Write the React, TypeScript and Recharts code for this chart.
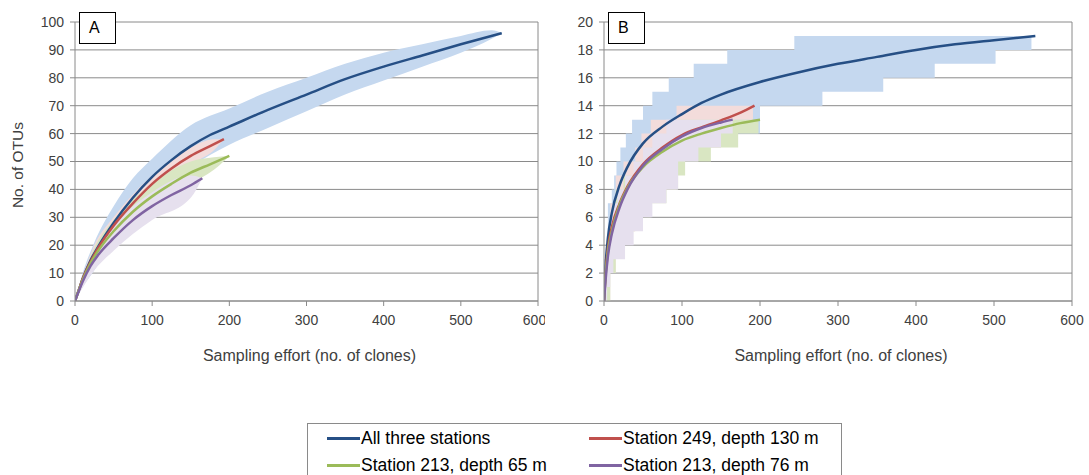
import { ComposedChart, Line, Area, XAxis, YAxis, CartesianGrid, ReferenceLine } from "recharts";

const xTicks = [0, 100, 200, 300, 400, 500, 600];
const yTicksA = [0, 10, 20, 30, 40, 50, 60, 70, 80, 90, 100];
const yTicksB = [0, 2, 4, 6, 8, 10, 12, 14, 16, 18, 20];

// panel A: rarefaction curves (x = clones, y = OTUs)
const allA = [[0, 0], [5, 4], [10, 8], [20, 14.5], [30, 19.5], [50, 28], [75, 37], [100, 44.5], [125, 50.5], [150, 55.5], [175, 59.5], [200, 62.5], [250, 68.5], [300, 74], [350, 79.5], [400, 84], [450, 88], [500, 92], [553, 96]];
const st249A = [[0, 0], [5, 4], [10, 8], [20, 14], [30, 19], [50, 27], [75, 35], [100, 42], [125, 47.5], [150, 52], [175, 55.5], [193, 58]];
const st213sA = [[0, 0], [10, 7.5], [20, 13.5], [30, 18], [50, 25], [75, 32], [100, 37.5], [125, 42], [150, 46], [175, 49], [200, 52]];
const st213dA = [[0, 0], [10, 7], [20, 12.5], [30, 16.5], [50, 22.5], [75, 29], [100, 34], [125, 38], [150, 41.5], [165, 44]];

// panel A: confidence bands [x, low, high]
const allBandA = [[0, 0, 0], [10, 5, 10], [25, 11, 21], [50, 22, 34], [75, 30, 44], [100, 37, 51], [150, 48, 63], [200, 56, 69], [250, 62, 75], [300, 68, 80], [350, 74, 85], [400, 79, 89], [450, 84, 92], [500, 89, 95], [540, 94, 97], [553, 96, 96]];
const st249BandA = [[0, 0, 0], [25, 14, 20], [50, 24, 30], [100, 39, 45], [150, 49, 55], [180, 54, 58], [193, 58, 58]];
const st213sBandA = [[0, 0, 0], [25, 13, 19], [50, 21, 29], [100, 33, 42], [150, 42, 50], [180, 47, 51.5], [200, 52, 52]];
const st213dBandA = [[0, 0, 0], [25, 11, 18], [50, 18, 27], [100, 29, 39], [150, 37, 45], [165, 44, 44]];

// panel B: curves
const allB = [[0, 0], [2, 2.5], [5, 4.5], [10, 6.3], [20, 8.3], [30, 9.6], [50, 11.3], [75, 12.5], [100, 13.4], [125, 14.2], [150, 14.8], [200, 15.7], [250, 16.4], [300, 17], [350, 17.5], [400, 18], [450, 18.4], [500, 18.7], [553, 19]];
const st249B = [[0, 0], [2, 2], [5, 3.8], [10, 5.3], [20, 7], [30, 8.2], [50, 9.8], [75, 11], [100, 11.9], [125, 12.45], [150, 12.95], [175, 13.5], [193, 14]];
const st213sB = [[0, 0], [2, 1.8], [5, 3.5], [10, 5], [20, 6.9], [30, 8.1], [50, 9.6], [75, 10.7], [100, 11.5], [125, 12], [150, 12.4], [175, 12.75], [200, 13]];
const st213dB = [[0, 0], [2, 1.5], [5, 3.2], [10, 4.8], [20, 6.7], [30, 8], [50, 9.7], [75, 10.9], [100, 11.8], [125, 12.4], [150, 12.8], [165, 13]];

// panel B: stepped bands [x, low, high]
const allBandB = [[0, 0, 3], [5, 2, 7], [10, 4, 8], [13, 5, 9], [16, 6, 10], [21, 7, 11], [28, 8, 12], [36, 9, 13], [50, 10, 14], [62, 10, 15], [83, 11, 16], [115, 12, 17], [158, 12, 18], [200, 14, 18], [244, 14, 19], [280, 15, 19], [358, 16, 19], [424, 17, 19], [502, 18, 19], [548, 19, 19], [553, 19, 19]];
const st249BandB = [[0, 0, 2], [8, 2, 7], [15, 4, 9], [25, 5, 10], [40, 6, 11], [48, 7, 12], [60, 8, 13], [93, 11, 14], [150, 13, 14], [191, 14, 14], [193, 14, 14]];
const st213sBandB = [[0, 0, 2], [8, 2, 6], [15, 4, 8], [25, 5, 9], [40, 6, 10], [60, 7, 11], [80, 8, 12], [95, 9, 13], [104, 10, 13], [137, 11, 13], [172, 12, 13], [198, 13, 13], [200, 13, 13]];
const st213dBandB = [[0, 0, 2], [4, 1, 4], [8, 2, 6], [12, 3, 7], [17, 3, 8], [27, 4, 9], [38, 5, 10], [50, 6, 11], [62, 7, 12], [80, 8, 13], [95, 10, 13], [121, 11, 13], [150, 12, 13], [165, 13, 13]];

const names = ["All three stations", "Station 249, depth 130 m", "Station 213, depth 65 m", "Station 213, depth 76 m"];
const lineColors = ["#264f85", "#c0504d", "#9bbb59", "#8064a2"];
const bandColors = ["#c5d8ef", "#f3dcdb", "#d9e6c2", "#e6e0ee"];

const toLine = (pts: number[][]) => pts.map(([x, y]) => ({ x, y }));
const toBand = (pts: number[][]) => pts.map(([x, lo, hi]) => ({ x, r: [lo, hi] }));

const font = "'Liberation Sans', Arial, sans-serif";
const grid = "#8a8a8a";
const tickStyle = { fontSize: 14, fill: "#404040", fontFamily: font };

function Panel({ left, plotLeft, plotRight, lines, bands, yMax, yTicks, label, step }: any) {
  const W = 545;
  return (
    <div style={{ position: "absolute", left, top: 0, width: W, height: 370 }}>
      <ComposedChart
        width={W}
        height={370}
        margin={{ top: 22, right: left + W - plotRight, bottom: 39, left: plotLeft - left - 45 }}
      >
        <CartesianGrid vertical={false} stroke={grid} strokeWidth={1} />
        <XAxis
          type="number"
          dataKey="x"
          domain={[0, 600]}
          ticks={xTicks}
          allowDataOverflow
          stroke={grid}
          tickSize={5}
          tickMargin={9}
          tick={tickStyle}
          height={30}
        />
        <YAxis
          type="number"
          domain={[0, yMax]}
          ticks={yTicks}
          allowDataOverflow
          stroke={grid}
          tickSize={5}
          tickMargin={6}
          tick={tickStyle}
          width={45}
        />
        <ReferenceLine x={600} stroke={grid} />
        {bands.map((b: number[][], i: number) => (
          <Area
            key={"b" + i}
            data={toBand(b)}
            dataKey="r"
            type={step ? "stepAfter" : "monotone"}
            stroke="none"
            fill={bandColors[i]}
            fillOpacity={1}
            isAnimationActive={false}
            activeDot={false}
          />
        ))}
        {lines.map((l: number[][], i: number) => (
          <Line
            key={"l" + i}
            data={toLine(l)}
            dataKey="y"
            type="monotone"
            stroke={lineColors[i]}
            strokeWidth={2.5}
            dot={false}
            isAnimationActive={false}
          />
        ))}
      </ComposedChart>
      <div
        style={{
          position: "absolute",
          left: plotLeft - left + 4,
          top: 12,
          width: 37,
          height: 32,
          border: "1px solid #000",
          background: "#fff",
          fontFamily: font,
          fontSize: 16,
          lineHeight: "30px",
          paddingLeft: 9,
          boxSizing: "border-box",
        }}
      >
        {label}
      </div>
      <div
        style={{
          position: "absolute",
          left: plotLeft - left,
          width: plotRight - plotLeft + 6,
          top: 347,
          textAlign: "center",
          fontFamily: font,
          fontSize: 16,
          color: "#404040",
          whiteSpace: "nowrap",
        }}
      >
        Sampling effort (no. of clones)
      </div>
    </div>
  );
}

function LegendItem({ i }: { i: number }) {
  return (
    <div style={{ display: "flex", alignItems: "center", height: 27 }}>
      <div style={{ width: 33, height: 2.5, background: lineColors[i], marginRight: 1 }} />
      <span>{names[i]}</span>
    </div>
  );
}

export default function App() {
  return (
    <div style={{ position: "absolute", left: 0, top: 0, width: 1089, height: 475, background: "#fff", overflow: "hidden" }}>
      <Panel left={0} plotLeft={75} plotRight={538} lines={[allA, st249A, st213sA, st213dA]} bands={[allBandA, st249BandA, st213sBandA, st213dBandA]} yMax={100} yTicks={yTicksA} label="A" step={false} />
      <Panel left={544} plotLeft={604} plotRight={1072} lines={[allB, st249B, st213sB, st213dB]} bands={[allBandB, st249BandB, st213sBandB, st213dBandB]} yMax={20} yTicks={yTicksB} label="B" step={true} />
      <div
        style={{
          position: "absolute",
          left: 18,
          top: 165,
          transform: "translate(-50%, -50%) rotate(-90deg)",
          fontFamily: font,
          fontSize: 15.5,
          color: "#404040",
          whiteSpace: "nowrap",
        }}
      >
        No. of OTUs
      </div>
      <div
        style={{
          position: "absolute",
          left: 307,
          top: 423,
          width: 535,
          height: 60,
          border: "1px solid #8a8a8a",
          boxSizing: "border-box",
          fontFamily: font,
          fontSize: 17.5,
          color: "#000",
          display: "grid",
          gridTemplateColumns: "262px 250px",
          gridAutoRows: "27px",
          paddingLeft: 19,
          paddingTop: 1,
        }}
      >
        <LegendItem i={0} />
        <LegendItem i={1} />
        <LegendItem i={2} />
        <LegendItem i={3} />
      </div>
    </div>
  );
}
